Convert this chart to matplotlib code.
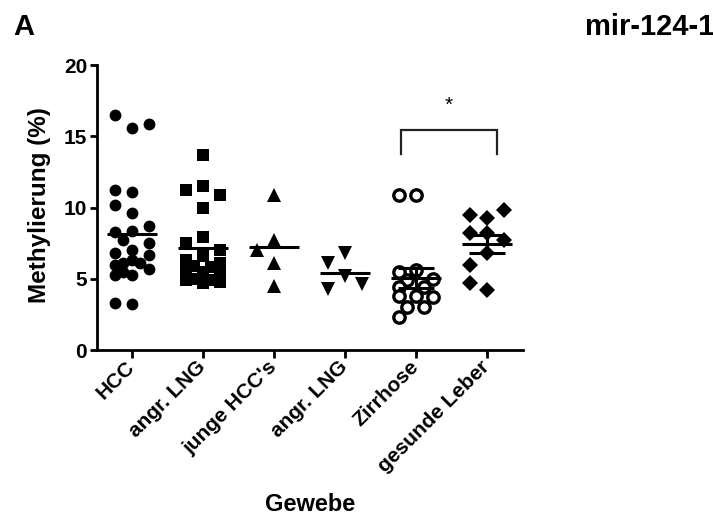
import numpy as np
import matplotlib
matplotlib.use("Agg")
import matplotlib.pyplot as plt

plt.rcParams['font.family'] = ['Liberation Sans', 'DejaVu Sans']
plt.rcParams['font.weight'] = 'bold'

# Methylierung (%) je Gewebe
categories = ["HCC", "angr. LNG", "junge HCC's", "angr. LNG", "Zirrhose", "gesunde Leber"]
hcc = [15.6, 16.5, 15.9, 11.1, 11.2, 10.2, 9.6, 8.35, 8.3, 8.7, 7.5, 7.7, 7.0, 6.8,
       6.7, 6.1, 6.1, 6.3, 5.3, 5.3, 5.7, 6.0, 5.5, 3.2, 3.3]
angr_lng_1 = [13.7, 11.5, 11.2, 10.9, 10.0, 7.9, 7.5, 7.0, 6.6, 6.3, 6.1, 5.9, 5.8,
              5.6, 5.5, 5.3, 5.0, 4.9, 4.9, 4.7, 4.8]
junge_hcc = [10.9, 7.7, 7.0, 6.1, 4.5]
angr_lng_2 = [6.8, 6.1, 5.2, 4.3, 4.6]
zirrhose = [10.9, 10.85, 5.6, 5.45, 5.0, 4.9, 4.4, 4.4, 3.8, 3.75, 3.8, 3.05, 3.0, 2.35]
gesunde_leber = [9.3, 9.45, 9.8, 8.2, 8.2, 7.7, 6.8, 6.0, 4.2, 4.7]
groups = [hcc, angr_lng_1, junge_hcc, angr_lng_2, zirrhose, gesunde_leber]

# Signifikanz Zirrhose vs. gesunde Leber
sig_pair = (4, 5)
sig_text = "*"


def swarm(vals, px_x=71.0, px_y=14.25, d=14.0):
    # einfache Anordnung der Punkte nebeneinander (wie column scatter)
    cands = [0, -0.24, 0.24, -0.12, 0.12]
    placed = []
    for v in vals:
        best, best_d = 0, -1
        for dx in cands:
            dmin = min([np.hypot((dx - px) * px_x, (v - py) * px_y) for px, py in placed] or [99])
            if dmin >= d:
                best = dx
                break
            if dmin > best_d:
                best, best_d = dx, dmin
        placed.append((best, v))
    return [p[0] for p in placed]


styles = [
    dict(marker='o', ms=8.5, mfc='black', mec='black', mew=0),
    dict(marker='s', ms=8.5, mfc='black', mec='black', mew=0),
    dict(marker='^', ms=9.5, mfc='black', mec='black', mew=0),
    dict(marker='v', ms=9.5, mfc='black', mec='black', mew=0),
    dict(marker='o', ms=8.2, mfc='white', mec='black', mew=2.4),
    dict(marker='D', ms=8.0, mfc='black', mec='black', mew=0),
]

fig = plt.figure(figsize=(7.13, 5.17), dpi=100)
ax = fig.add_axes([0.136, 0.323, 0.5975, 0.551])

for i, (vals, st) in enumerate(zip(groups, styles)):
    vals = np.array(vals)
    dx = np.array(swarm(vals))
    ax.plot(i + dx, vals, ls='none', zorder=3, **st)
    m = vals.mean()
    ax.hlines(m, i - 0.35, i + 0.35, color='black', lw=2.2, zorder=4)
    if i in sig_pair:
        sem = vals.std(ddof=1) / np.sqrt(len(vals))
        ax.hlines([m - sem, m + sem], i - 0.25, i + 0.25, color='black', lw=2.2, zorder=4)
        ax.vlines(i, m - sem, m + sem, color='black', lw=2.2, zorder=4)

# Klammer fuer Signifikanz
a, b = sig_pair
ax.plot([a - 0.21, a - 0.21, b + 0.15, b + 0.15], [13.75, 15.45, 15.45, 13.75],
        color='#222222', lw=1.6, solid_joinstyle='miter', zorder=2)
ax.text((a + b) / 2 - 0.03, 16.5, sig_text, ha='center', va='bottom', fontsize=15,
        fontweight='normal')

ax.set_xlim(-0.49, 5.51)
ax.set_ylim(0, 20)
ax.set_yticks([0, 5, 10, 15, 20])
ax.set_xticks(range(len(categories)))
ax.set_xticklabels(categories, rotation=45, ha='right', va='center',
                   rotation_mode='anchor', fontsize=15)
ax.tick_params(axis='y', labelsize=15, width=2, length=5, pad=2)
ax.tick_params(axis='x', width=2, length=6, pad=4)
for s in ['top', 'right']:
    ax.spines[s].set_visible(False)
for s in ['left', 'bottom']:
    ax.spines[s].set_linewidth(2)

fig.text(40 / 713, 1 - 205 / 517, "Methylierung (%)", rotation=90, ha='center',
         va='center', fontsize=17.5)
fig.text(310 / 713, 1 - 511 / 517, "Gewebe", ha='center', va='baseline', fontsize=17)
fig.text(13 / 713, 1 - 35 / 517, "A", ha='left', va='baseline', fontsize=21)
fig.text(585 / 713, 1 - 35 / 517, "mir-124-1", ha='left', va='baseline', fontsize=21)

fig.savefig("out.png", dpi=100)
